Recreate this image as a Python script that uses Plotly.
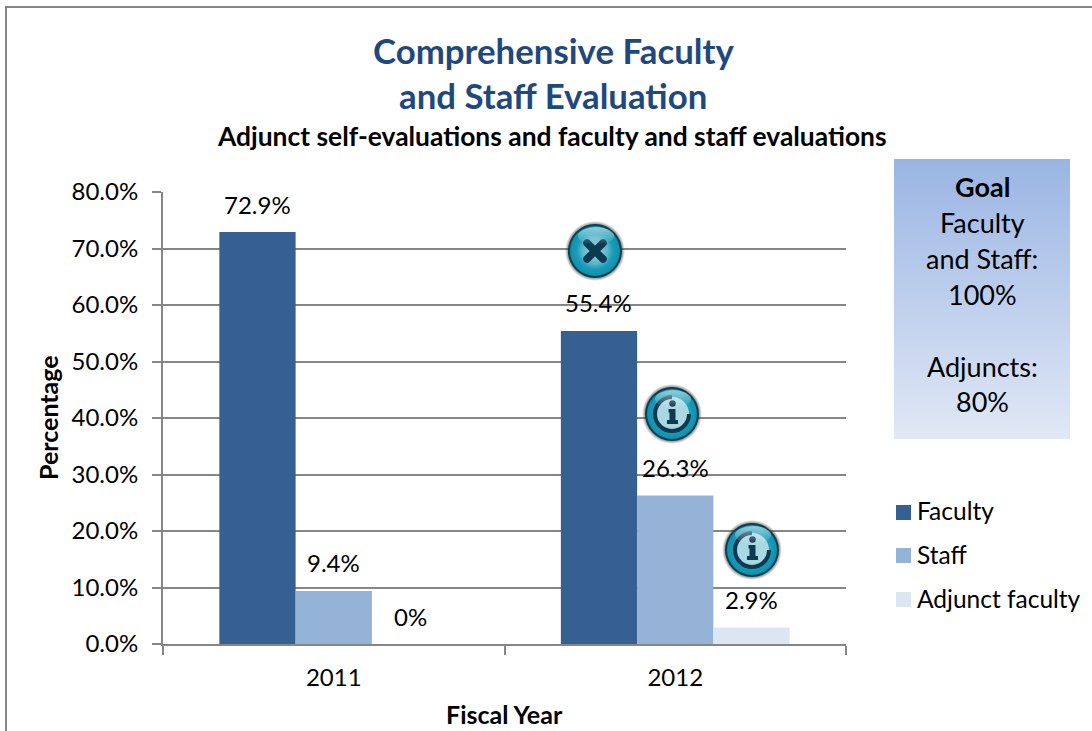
import base64
import plotly.graph_objects as go

categories = ["2011", "2012"]
series_names = ["Faculty", "Staff", "Adjunct faculty"]
series_colors = ["#376092", "#95B3D7", "#DCE6F2"]
faculty = [72.9, 55.4]
staff = [9.4, 26.3]
adjunct = [0, 2.9]
faculty_labels = ["72.9%", "55.4%"]
staff_labels = ["9.4%", "26.3%"]
adjunct_labels = ["0%", "2.9%"]
goal_lines = ["<b>Goal</b>", "Faculty", "and Staff:", "100%", "", "Adjuncts:", "80%"]

WIDTH, HEIGHT = 1092, 731
LEFT, RIGHT, TOP, BOTTOM = 163, 846, 192, 644
FONT = "Lato"
GRID = "#868686"


def px_x(x):
    return (x - LEFT) / (RIGHT - LEFT)


def px_y(y):
    return (BOTTOM - y) / (BOTTOM - TOP)


def svg_uri(svg):
    return "data:image/svg+xml;base64," + base64.b64encode(svg.encode()).decode()


def icon(glyph):
    return svg_uri(f"""<svg xmlns="http://www.w3.org/2000/svg" width="120" height="120" viewBox="0 0 120 120">
<defs>
<radialGradient id="b" cx="50%" cy="50%" r="50%">
<stop offset="0%" stop-color="#9fd3df"/><stop offset="50%" stop-color="#5fb6cb"/>
<stop offset="72%" stop-color="#1a9db9"/><stop offset="100%" stop-color="#0f8fab"/>
</radialGradient>
<radialGradient id="h" cx="50%" cy="50%" r="50%">
<stop offset="88%" stop-color="#333333" stop-opacity="0.6"/><stop offset="100%" stop-color="#333333" stop-opacity="0"/>
</radialGradient>
<linearGradient id="s" x1="0" y1="0" x2="0" y2="1">
<stop offset="0%" stop-color="#ffffff" stop-opacity="0.55"/><stop offset="100%" stop-color="#ffffff" stop-opacity="0"/>
</linearGradient>
</defs>
<circle cx="60" cy="60" r="60" fill="url(#h)"/>
<circle cx="60" cy="60" r="54" fill="#0c3f50"/>
<circle cx="60" cy="60" r="50" fill="url(#b)"/>
{glyph}
<ellipse cx="62" cy="30" rx="36" ry="18" fill="url(#s)"/>
</svg>""")


cross = """<path d="M44 44 L76 76 M76 44 L44 76" stroke="#0c3a50" stroke-width="15" stroke-linecap="round"/>"""
info = """<circle cx="60" cy="60" r="34" fill="#a9d8e3"/>
<path d="M60 26 A34 34 0 1 0 94 60" fill="none" stroke="#0c3a50" stroke-width="8"/>
<circle cx="61" cy="39" r="6.5" fill="#0c3a50"/>
<path d="M53 50 H67 V72 H72 V80 H50 V72 H55 V57 H53 Z" fill="#0c3a50"/>"""

goal_box = svg_uri("""<svg xmlns="http://www.w3.org/2000/svg" width="176" height="280" viewBox="0 0 176 280" preserveAspectRatio="none">
<defs><linearGradient id="g" x1="0" y1="0" x2="0" y2="1">
<stop offset="0%" stop-color="#9ab5e3"/><stop offset="100%" stop-color="#e1e8f6"/>
</linearGradient></defs>
<rect width="176" height="280" fill="url(#g)"/></svg>""")

fig = go.Figure()
for name, color, values in zip(series_names, series_colors, [faculty, staff, adjunct]):
    fig.add_trace(go.Bar(x=categories, y=values, name=name, marker=dict(color=color, line_width=0)))

annotations = []

# data labels sit well above the bars, so use annotations with a shift
bar_width = (1 - 0.33) / 3
for offset, values, labels in [(-1, faculty, faculty_labels), (0, staff, staff_labels), (1, adjunct, adjunct_labels)]:
    for i, (v, label) in enumerate(zip(values, labels)):
        annotations.append(dict(x=i + offset * bar_width, y=v, xref="x", yref="y", text=label, showarrow=False,
                                yshift=28, font=dict(size=24, color="#000000")))


def text_at(x, y, text, size, color="#000000", angle=0, anchor="center"):
    annotations.append(dict(x=px_x(x), y=px_y(y), xref="paper", yref="paper", text=text, showarrow=False,
                            xanchor=anchor, yanchor="middle", textangle=angle,
                            font=dict(size=size, color=color, family=FONT)))


text_at(553, 51, "<b>Comprehensive Faculty</b>", 34.8, "#1F497D")
text_at(553, 96, "<b>and Staff Evaluation</b>", 34.8, "#1F497D")
text_at(552, 135.5, "<b>Adjunct self-evaluations and faculty and staff evaluations</b>", 26.4)
text_at(48, 418, "<b>Percentage</b>", 25, angle=-90)
text_at(504, 714, "<b>Fiscal Year</b>", 25)

goal_y = 187
for line in goal_lines:
    if line:
        text_at(982, goal_y, line, 27)
    goal_y += 35.8

images = [dict(source=goal_box, xref="paper", yref="paper", x=px_x(894), y=px_y(159), sizex=px_x(1070) - px_x(894),
               sizey=px_y(159) - px_y(439), xanchor="left", yanchor="top", sizing="stretch", layer="below")]
for cx, cy, glyph in [(595, 251, cross), (672, 414, info), (752, 550, info)]:
    images.append(dict(source=icon(glyph), xref="paper", yref="paper", x=px_x(cx), y=px_y(cy),
                       sizex=px_x(cx + 30) - px_x(cx - 30), sizey=px_y(cy - 30) - px_y(cy + 30),
                       xanchor="center", yanchor="middle", sizing="stretch", layer="above"))

border = dict(type="path", xref="paper", yref="paper", line=dict(color=GRID, width=2),
              path=f"M {px_x(6)} {px_y(731)} L {px_x(6)} {px_y(7)} L {px_x(1092)} {px_y(7)}")
shapes = [border]

# legend drawn by hand: swatch size and the swatch-to-text gap can't be set on a native one
for name, color, ly in zip(series_names, series_colors, [512.5, 555.5, 599.5]):
    shapes.append(dict(type="rect", xref="paper", yref="paper", x0=px_x(896), x1=px_x(911), y0=px_y(ly - 7.5),
                       y1=px_y(ly + 7.5), fillcolor=color, line_width=0))
    text_at(915, ly - 1.5, name, 24.5, anchor="left")

fig.update_layout(
    width=WIDTH,
    height=HEIGHT,
    margin=dict(l=LEFT, r=WIDTH - RIGHT, t=TOP, b=HEIGHT - BOTTOM, pad=0),
    paper_bgcolor="white",
    plot_bgcolor="white",
    font=dict(family=FONT, size=24, color="#000000"),
    barmode="group",
    bargap=0.33,
    bargroupgap=0,
    showlegend=False,
    annotations=annotations,
    images=images,
    shapes=shapes,
)
fig.update_xaxes(type="category", showline=True, linecolor=GRID, linewidth=2, ticks="outside", ticklen=9,
                 tickwidth=2, tickcolor=GRID, tickson="boundaries", showgrid=False, tickfont=dict(size=24),
                 ticklabelstandoff=11)
fig.update_yaxes(range=[0, 80], dtick=10, tickformat=".1f", ticksuffix="%", showline=True, linecolor=GRID, linewidth=2,
                 ticks="outside", ticklen=9, tickwidth=2, tickcolor=GRID, gridcolor=GRID, gridwidth=1.5,
                 zeroline=False, tickfont=dict(size=24), ticklabelstandoff=9)

fig.write_html("out.html", config={"displayModeBar": False}, post_script="document.body.style.margin='0';")
